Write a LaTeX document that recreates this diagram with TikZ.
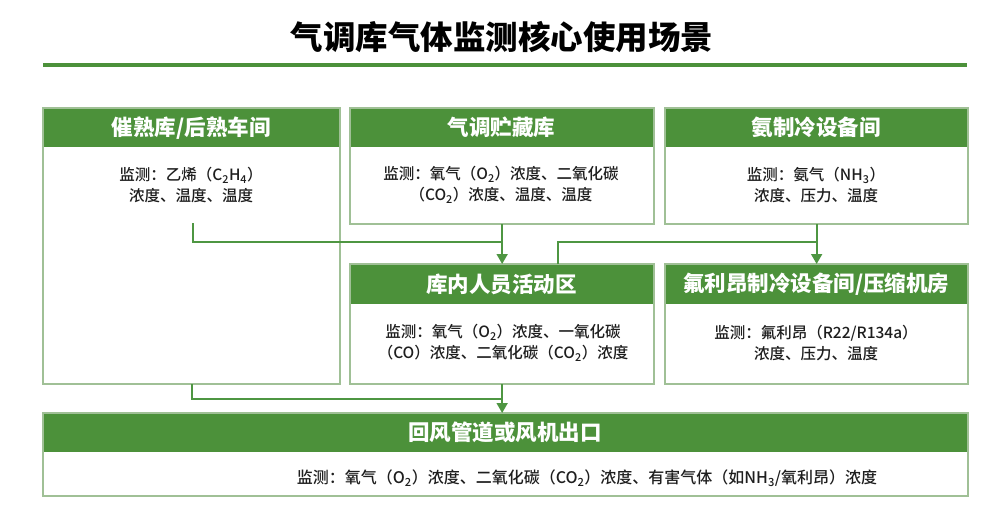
\documentclass[tikz,border=0pt]{standalone}
\usepackage{fontspec}
\setmainfont{Noto Sans CJK SC}
\newfontfamily\medfont{Noto Sans CJK SC Medium}
\usetikzlibrary{arrows.meta}
\definecolor{hdgreen}{RGB}{76,145,58}
\definecolor{bdgreen}{RGB}{160,192,150}
\definecolor{lngreen}{RGB}{78,150,66}
\definecolor{txt}{RGB}{30,30,30}
\tikzset{
  box/.style={draw=bdgreen, line width=1.3pt, fill=white, anchor=north west, inner sep=0pt},
  head/.style={fill=hdgreen, anchor=north west, inner sep=0pt, text=white,
    font=\bfseries\fontsize{21.5}{24}\selectfont},
  frame/.style={draw=bdgreen, line width=1.3pt},
  body/.style={text=txt, align=center, inner sep=0pt,
    font=\medfont\fontsize{15.5}{20.5}\selectfont},
  conn/.style={draw=lngreen, line width=1.8pt},
  arr/.style={conn, -{Triangle[width=11pt,length=10pt]}},
  rule/.style={draw=hdgreen, line width=4pt},
}
\begin{document}
\begin{tikzpicture}[x=1pt,y=-1pt]
\useasboundingbox (0,0) rectangle (1005,519);
% title
\node[text=black, font=\bfseries\fontsize{32.5}{36}\selectfont] (title) at (502,37) {气调库气体监测核心使用场景};
\coordinate (rl) at (43,65);
\coordinate (rr) at (967,65);
\draw[rule] (rl) -- (rr);
% box 1
\node[box, minimum width=296pt, minimum height=275pt] (b1) at (43,108) {};
\node[head, minimum width=296pt, minimum height=39pt] (h1) at (43,108) {催熟库/后熟车间};
\draw[frame] (b1.north west) rectangle (b1.south east);
\node[body] (t1) at (191,185) {监测：乙烯（C\textsubscript{2}H\textsubscript{4}）\\浓度、温度、温度};
% box 2
\node[box, minimum width=303pt, minimum height=115pt] (b2) at (350,108) {};
\node[head, minimum width=303pt, minimum height=39pt] (h2) at (350,108) {气调贮藏库};
\draw[frame] (b2.north west) rectangle (b2.south east);
\node[body] (t2) at (501,185) {监测：氧气（O\textsubscript{2}）浓度、二氧化碳\\（CO\textsubscript{2}）浓度、温度、温度};
% box 3
\node[box, minimum width=302pt, minimum height=115pt] (b3) at (665,108) {};
\node[head, minimum width=302pt, minimum height=39pt] (h3) at (665,108) {氨制冷设备间};
\draw[frame] (b3.north west) rectangle (b3.south east);
\node[body] (t3) at (816,185) {监测：氨气（NH\textsubscript{3}）\\浓度、压力、温度};
% box 4
\node[box, minimum width=303pt, minimum height=119pt] (b4) at (350,264) {};
\node[head, minimum width=303pt, minimum height=40pt] (h4) at (350,264) {库内人员活动区};
\draw[frame] (b4.north west) rectangle (b4.south east);
\node[body] (t4) at (503,343) {监测：氧气（O\textsubscript{2}）浓度、一氧化碳\\（CO）浓度、二氧化碳（CO\textsubscript{2}）浓度};
% box 5
\node[box, minimum width=302pt, minimum height=119pt] (b5) at (665,264) {};
\node[head, minimum width=302pt, minimum height=40pt] (h5) at (665,264) {氟利昂制冷设备间/压缩机房};
\draw[frame] (b5.north west) rectangle (b5.south east);
\node[body] (t5) at (816,343) {监测：氟利昂（R22/R134a）\\浓度、压力、温度};
% box 6
\node[box, minimum width=924pt, minimum height=82pt] (b6) at (43,413) {};
\node[head, minimum width=924pt, minimum height=39pt] (h6) at (43,413) {回风管道或风机出口};
\draw[frame] (b6.north west) rectangle (b6.south east);
\node[body, font=\medfont\fontsize{16}{20}\selectfont] (t6) at (587,478) {监测：氧气（O\textsubscript{2}）浓度、二氧化碳（CO\textsubscript{2}）浓度、有害气体（如NH\textsubscript{3}/氧利昂）浓度};
% connectors
\coordinate (s1) at (193,223);
\coordinate (s4) at (558,264);
\draw[arr] (b2.south) -- (b4.north);
\draw[arr] (b3.south) -- (b5.north);
\draw[conn] (s1) |- ([yshift=-18pt]b2.south);
\draw[conn] (s4) |- ([yshift=-18pt]b3.south);
\draw[conn] (b1.south) |- ([yshift=-15pt]b4.south);
\draw[arr] (b4.south) -- (b4.south |- b6.north);
\end{tikzpicture}
\end{document}
